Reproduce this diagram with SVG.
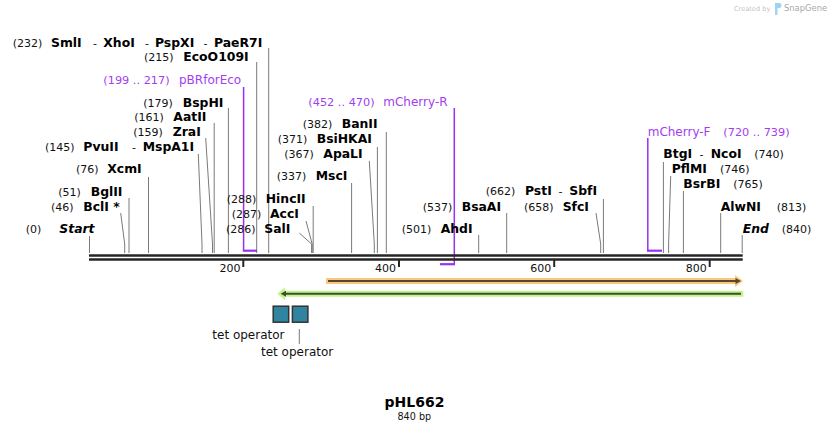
<svg xmlns="http://www.w3.org/2000/svg" width="832" height="433" viewBox="0 0 832 433">
<style>
text{font-family:"DejaVu Sans","Verdana",sans-serif;fill:#111}
.n{font-size:11px}
.b{font-size:12.4px;font-weight:bold;fill:#000}
.bi{font-size:12.4px;font-weight:bold;font-style:italic;fill:#000}
.p{font-size:12px;fill:#a23df0}
.pn{font-size:11.3px;fill:#a23df0}
.t{font-size:11px;fill:#111}
.site{fill:none;stroke:#7a7a7a;stroke-width:1}
.prim{fill:none;stroke:#9b30f0;stroke-width:1.5}
.brk{stroke:#9b30f0;stroke-width:2.2}
.bb{stroke:#262626;stroke-width:2.4}
.tick{stroke:#262626;stroke-width:2}
</style>
<rect width="832" height="433" fill="#fff"/>

<g id="watermark">
<text x="734" y="10.5" style="font-size:6.6px;fill:#c4c4c4">Created by</text>
<path d="M775,3 h4 a2.5,2.5 0 0 1 0,5 h-1.5 v7 h-2.5 z" fill="#9fd3f2"/>
<text x="784" y="11" style="font-size:8.4px;fill:#a8a8a8">SnapGene</text>
</g>

<g id="connectors">
<polyline class="site" points="89.5,236 89.5,253"/>
<polyline class="site" points="120.7,213 124.7,244 124.7,253"/>
<polyline class="site" points="129,198 129,253"/>
<polyline class="site" points="148.5,177 148.5,253"/>
<polyline class="site" points="198.3,154 202,244 202,253"/>
<polyline class="site" points="205.7,138 212.5,244 212.5,253"/>
<polyline class="site" points="214.2,123 214.2,253"/>
<polyline class="site" points="228.4,108 228.4,253"/>
<polyline class="site" points="256.7,62 256.7,253"/>
<polyline class="site" points="268.7,48 268.7,253"/>
<polyline class="site" points="299.3,233 311.6,244 311.6,253"/>
<polyline class="site" points="306,221 312.2,244 312.2,253"/>
<polyline class="site" points="313.2,206 313.2,253"/>
<polyline class="site" points="351.6,183 351.6,253"/>
<polyline class="site" points="369.3,161 374.3,244 374.3,253"/>
<polyline class="site" points="377.4,147 377.4,253"/>
<polyline class="site" points="386.3,132 386.3,253"/>
<polyline class="site" points="478.7,235 478.7,253"/>
<polyline class="site" points="506.7,213 506.7,253"/>
<polyline class="site" points="596,213 600.7,244 600.7,253"/>
<polyline class="site" points="603.4,199 603.4,253"/>
<polyline class="site" points="663.4,162 663.4,253"/>
<polyline class="site" points="670.7,176 668.6,244 668.6,253"/>
<polyline class="site" points="683.4,191 683.4,253"/>
<polyline class="site" points="720.7,213 720.7,253"/>
<polyline class="site" points="742.2,235 742.2,253"/>
<polyline class="site" points="299.3,329 299.3,344"/>
<polyline class="prim" points="243.6,87 243.6,250.5"/>
<line class="brk" x1="242.8" y1="250.7" x2="257" y2="250.7"/>
<polyline class="prim" points="454.3,108 454.3,264"/>
<line class="brk" x1="440" y1="264.2" x2="455" y2="264.2"/>
<polyline class="prim" points="647.8,138 647.8,250.5"/>
<line class="brk" x1="647" y1="250.7" x2="662" y2="250.7"/>
</g>

<g id="backbone">
<line class="bb" x1="89" y1="255.5" x2="742.7" y2="255.5"/>
<line class="bb" x1="89" y1="259.5" x2="742.7" y2="259.5"/>
<line class="tick" x1="243.3" y1="260" x2="243.3" y2="267"/>
<line class="tick" x1="399" y1="260" x2="399" y2="267"/>
<line class="tick" x1="554.2" y1="260" x2="554.2" y2="267"/>
<line class="tick" x1="709.7" y1="260" x2="709.7" y2="267"/>
<text class="t" x="240.5" y="271.5" text-anchor="end">200</text>
<text class="t" x="396" y="271.5" text-anchor="end">400</text>
<text class="t" x="551.2" y="271.5" text-anchor="end">600</text>
<text class="t" x="706.7" y="271.5" text-anchor="end">800</text>
</g>

<g id="feature-orange">
<polygon points="326,278 735,278 735,275 743,281 735,287 735,284 326,284" fill="#f9c87a"/>
<line x1="328" y1="281" x2="737" y2="281" stroke="#574632" stroke-width="2"/>
<polygon points="735.5,278 741,281 735.5,284" fill="#574632"/>
</g>
<g id="feature-green">
<polygon points="743.3,290.7 285,290.7 285,287.3 277.3,293.7 285,300 285,296.7 743.3,296.7" fill="#c2f58a"/>
<line x1="741" y1="293.7" x2="284" y2="293.7" stroke="#3f4d33" stroke-width="2"/>
<polygon points="286,290.7 280.7,293.7 286,296.7" fill="#3f4d33"/>
</g>

<g id="tet-operator-1">
<rect x="273.2" y="306.2" width="15.5" height="16" fill="#2f859f" stroke="#333" stroke-width="1.5"/>
<text x="212.3" y="339" style="font-size:12px;fill:#111">tet operator</text>
</g>
<g id="tet-operator-2">
<rect x="292.4" y="306.2" width="15.5" height="16" fill="#2f859f" stroke="#333" stroke-width="1.5"/>
<text x="261" y="355.7" style="font-size:12px;fill:#111">tet operator</text>
</g>

<g id="SmlI"><text class="n" x="12.7" y="46.5">(232)</text><text class="b" x="51" y="46.5">SmlI</text><text class="n" x="93" y="46.5">-</text><text class="b" x="103.3" y="46.5">XhoI</text><text class="n" x="145" y="46.5">-</text><text class="b" x="155" y="46.5">PspXI</text><text class="n" x="203.5" y="46.5">-</text><text class="b" x="214" y="46.5">PaeR7I</text></g>
<g id="EcoO109I"><text class="n" x="144" y="60.7">(215)</text><text class="b" x="183.3" y="60.7">EcoO109I</text></g>
<g id="pBRforEco"><text class="pn" x="103.3" y="84">(199 .. 217)</text><text class="p" x="179" y="84">pBRforEco</text></g>
<g id="BspHI"><text class="n" x="143.3" y="106.7">(179)</text><text class="b" x="182.7" y="106.7">BspHI</text></g>
<g id="AatII"><text class="n" x="134.3" y="120.7">(161)</text><text class="b" x="173.3" y="120.7">AatII</text></g>
<g id="ZraI"><text class="n" x="133.3" y="135.7">(159)</text><text class="b" x="172.7" y="135.7">ZraI</text></g>
<g id="PvuII"><text class="n" x="45" y="151">(145)</text><text class="b" x="83.3" y="151">PvuII</text><text class="n" x="132" y="151">-</text><text class="b" x="142.7" y="151">MspA1I</text></g>
<g id="XcmI"><text class="n" x="76" y="173.3">(76)</text><text class="b" x="107.3" y="173.3">XcmI</text></g>
<g id="BglII"><text class="n" x="58.3" y="195.7">(51)</text><text class="b" x="90.7" y="195.7">BglII</text></g>
<g id="BclI"><text class="n" x="51" y="210.7">(46)</text><text class="b" x="83.3" y="210.7">BclI *</text></g>
<g id="Start"><text class="n" x="25.7" y="233.3">(0)</text><text class="bi" x="59.3" y="233.3">Start</text></g>
<g id="HincII"><text class="n" x="226.7" y="203.3">(288)</text><text class="b" x="265.7" y="203.3">HincII</text></g>
<g id="AccI"><text class="n" x="231.7" y="218.3">(287)</text><text class="b" x="270" y="218.3">AccI</text></g>
<g id="SalI"><text class="n" x="226" y="233.3">(286)</text><text class="b" x="264.3" y="233.3">SalI</text></g>
<g id="MscI"><text class="n" x="276.7" y="180">(337)</text><text class="b" x="315.7" y="180">MscI</text></g>
<g id="ApaLI"><text class="n" x="284.3" y="158.3">(367)</text><text class="b" x="323.3" y="158.3">ApaLI</text></g>
<g id="BsiHKAI"><text class="n" x="277.7" y="143.3">(371)</text><text class="b" x="316.7" y="143.3">BsiHKAI</text></g>
<g id="BanII"><text class="n" x="302.7" y="128.3">(382)</text><text class="b" x="341.7" y="128.3">BanII</text></g>
<g id="mCherry-R"><text class="pn" x="308.3" y="105.7">(452 .. 470)</text><text class="p" x="383.3" y="105.7">mCherry-R</text></g>
<g id="BsaAI"><text class="n" x="422.7" y="210.7">(537)</text><text class="b" x="461.7" y="210.7">BsaAI</text></g>
<g id="AhdI"><text class="n" x="401.7" y="233.3">(501)</text><text class="b" x="440.7" y="233.3">AhdI</text></g>
<g id="PstI"><text class="n" x="485.7" y="195">(662)</text><text class="b" x="525" y="195">PstI</text><text class="n" x="558.5" y="195">-</text><text class="b" x="569.3" y="195">SbfI</text></g>
<g id="SfcI"><text class="n" x="524" y="210.7">(658)</text><text class="b" x="562.7" y="210.7">SfcI</text></g>
<g id="mCherry-F"><text class="p" x="647.7" y="135.7">mCherry-F</text><text class="pn" x="723.3" y="135.7">(720 .. 739)</text></g>
<g id="BtgI"><text class="b" x="663.3" y="158.3">BtgI</text><text class="n" x="699.5" y="158.3">-</text><text class="b" x="710.7" y="158.3">NcoI</text><text class="n" x="754.3" y="158.3">(740)</text></g>
<g id="PflMI"><text class="b" x="671.7" y="173.3">PflMI</text><text class="n" x="720" y="173.3">(746)</text></g>
<g id="BsrBI"><text class="b" x="683.3" y="188.3">BsrBI</text><text class="n" x="733.3" y="188.3">(765)</text></g>
<g id="AlwNI"><text class="b" x="720.7" y="210.7">AlwNI</text><text class="n" x="776.7" y="210.7">(813)</text></g>
<g id="End"><text class="bi" x="742.7" y="233.3">End</text><text class="n" x="781.7" y="233.3">(840)</text></g>

<g id="title">
<text x="414.5" y="406.7" text-anchor="middle" style="font-size:14px;font-weight:bold;fill:#000">pHL662</text>
<text x="414.3" y="420.3" text-anchor="middle" style="font-size:9.6px;fill:#111">840 bp</text>
</g>
</svg>
